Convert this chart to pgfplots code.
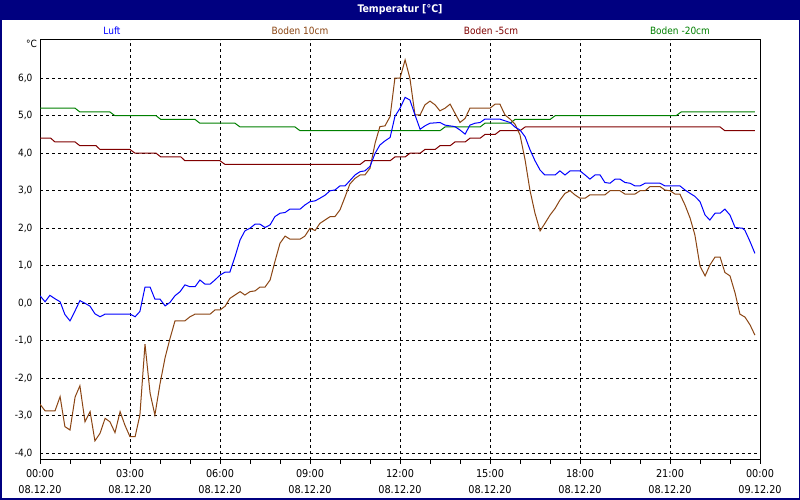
\documentclass[border=0pt]{standalone}
\usepackage{fontspec}
\setmainfont{DejaVu Sans Condensed}
\usepackage{pgfplots}
\pgfplotsset{compat=1.18}
\definecolor{navyb}{RGB}{0,0,128}
\definecolor{luft}{RGB}{0,0,255}
\definecolor{bten}{RGB}{139,69,19}
\definecolor{bfive}{RGB}{128,0,0}
\definecolor{btwenty}{RGB}{0,128,0}
\begin{document}
\begin{tikzpicture}[x=1pt,y=1pt]
\fill[navyb] (0,0) rectangle (800,500);
\fill[white] (1.5,1.5) rectangle (798.5,480);
\path[use as bounding box] (0,0) rectangle (800,500);
\node[white, font=\bfseries\fontsize{10.5}{12}\selectfont] at (400,490) {Temperatur [°C]};
\node[luft, font=\fontsize{10}{12}\selectfont] at (112,469) {Luft};
\node[bten, font=\fontsize{10}{12}\selectfont] at (300,469) {Boden 10cm};
\node[bfive, font=\fontsize{10}{12}\selectfont] at (491,469) {Boden -5cm};
\node[btwenty, font=\fontsize{10}{12}\selectfont] at (680,469) {Boden -20cm};
\node[anchor=east, font=\fontsize{10}{12}\selectfont, inner sep=0pt] at (37,456) {°C};
\begin{axis}[
  at={(40pt,40pt)}, anchor=south west,
  scale only axis, width=720pt, height=420pt,
  xmin=0, xmax=24, ymin=-4.18, ymax=7.02,
  axis line style={black, line width=1pt},
  xtick={0,3,...,24},
  xticklabels={{00:00\\08.12.20},{03:00\\08.12.20},{06:00\\08.12.20},{09:00\\08.12.20},{12:00\\08.12.20},{15:00\\08.12.20},{18:00\\08.12.20},{21:00\\08.12.20},{00:00\\09.12.20}},
  minor xtick={1,2,4,5,7,8,10,11,13,14,16,17,19,20,22,23},
  xtick pos=bottom, tick align=outside,
  major tick length=4pt, minor tick length=4pt,
  tick style={black, line width=0.8pt},
  ytick={-4,-3,...,6},
  yticklabels={{-4,0},{-3,0},{-2,0},{-1,0},{0,0},{1,0},{2,0},{3,0},{4,0},{5,0},{6,0}},
  ytick style={draw=none},
  xmajorgrids, ymajorgrids,
  major grid style={black, line width=0.8pt, dash pattern=on 3pt off 3pt},
  xticklabel style={align=center, font=\fontsize{10.8}{16}\selectfont, yshift=-2pt},
  yticklabel style={font=\fontsize{10}{12}\selectfont},
]
\addplot[btwenty, line width=1pt] coordinates {
(0,5.2)(1.17,5.2)(1.33,5.1)(2.33,5.1)(2.5,5.0)(3.87,5.0)(4.03,4.9)(5.17,4.9)(5.33,4.8)(6.5,4.8)(6.67,4.7)(8.5,4.7)(8.67,4.6)(13.33,4.6)(13.5,4.7)(14.67,4.7)(14.83,4.8)(15.67,4.8)(15.83,4.9)(17.0,4.9)(17.17,5.0)(21.2,5.0)(21.37,5.1)(23.83,5.1)
};
\addplot[bfive, line width=1pt] coordinates {
(0,4.4)(0.36,4.4)(0.5,4.3)(1.17,4.3)(1.33,4.2)(1.87,4.2)(2.0,4.1)(3.0,4.1)(3.17,4.0)(3.87,4.0)(4.03,3.9)(4.7,3.9)(4.83,3.8)(6.0,3.8)(6.17,3.7)(10.67,3.7)(10.83,3.8)(11.67,3.8)(11.83,3.9)(12.17,3.9)(12.33,4.0)(12.67,4.0)(12.83,4.1)(13.17,4.1)(13.33,4.2)(13.67,4.2)(13.83,4.3)(14.17,4.3)(14.33,4.4)(14.67,4.4)(14.83,4.5)(15.17,4.5)(15.33,4.6)(16.0,4.6)(16.17,4.7)(22.67,4.7)(22.83,4.6)(23.83,4.6)
};
\addplot[bten, line width=1pt] coordinates {
(0.00,-2.69)(0.17,-2.87)(0.50,-2.87)(0.67,-2.49)(0.83,-3.29)(1.00,-3.38)(1.17,-2.50)(1.33,-2.20)(1.50,-3.16)(1.67,-2.89)(1.83,-3.67)(2.00,-3.47)(2.17,-3.07)(2.33,-3.16)(2.50,-3.45)(2.67,-2.89)(2.83,-3.25)(3.00,-3.56)(3.17,-3.56)(3.33,-2.98)(3.50,-1.09)(3.67,-2.40)(3.83,-2.98)(4.00,-2.15)(4.17,-1.45)(4.33,-0.95)(4.50,-0.47)(4.83,-0.47)(5.00,-0.36)(5.17,-0.29)(5.67,-0.29)(5.83,-0.18)(6.00,-0.18)(6.17,-0.08)(6.33,0.13)(6.50,0.22)(6.67,0.31)(6.83,0.22)(7.00,0.31)(7.17,0.33)(7.33,0.43)(7.50,0.43)(7.67,0.62)(7.83,1.11)(8.00,1.60)(8.17,1.79)(8.33,1.71)(8.67,1.71)(8.83,1.79)(9.00,2.00)(9.17,1.94)(9.33,2.13)(9.50,2.22)(9.67,2.31)(9.83,2.31)(10.00,2.49)(10.17,2.84)(10.33,3.18)(10.50,3.33)(10.67,3.42)(10.83,3.42)(11.00,3.60)(11.17,4.27)(11.33,4.71)(11.50,4.73)(11.67,4.98)(11.83,6.00)(12.00,6.00)(12.17,6.49)(12.33,6.00)(12.50,5.02)(12.67,5.02)(12.83,5.29)(13.00,5.39)(13.17,5.29)(13.33,5.13)(13.50,5.20)(13.67,5.31)(13.83,5.07)(14.00,4.82)(14.17,4.93)(14.33,5.20)(15.00,5.20)(15.17,5.31)(15.33,5.31)(15.50,5.02)(15.67,4.91)(15.83,4.78)(16.00,4.49)(16.17,3.82)(16.33,3.02)(16.50,2.40)(16.67,1.93)(16.83,2.13)(17.00,2.35)(17.17,2.53)(17.33,2.75)(17.50,2.93)(17.67,3.00)(17.83,2.89)(18.00,2.80)(18.17,2.80)(18.33,2.89)(18.83,2.89)(19.00,3.00)(19.33,3.00)(19.50,2.91)(19.83,2.91)(20.00,3.00)(20.17,3.00)(20.33,3.11)(20.67,3.11)(20.83,3.02)(21.00,3.00)(21.17,2.91)(21.33,2.91)(21.50,2.62)(21.67,2.27)(21.83,1.82)(22.00,0.99)(22.17,0.73)(22.33,1.02)(22.50,1.23)(22.67,1.23)(22.83,0.82)(23.00,0.73)(23.17,0.27)(23.33,-0.29)(23.50,-0.37)(23.67,-0.58)(23.83,-0.85)
};
\addplot[luft, line width=1pt] coordinates {
(0.00,0.20)(0.17,0.04)(0.33,0.21)(0.50,0.12)(0.67,0.04)(0.83,-0.30)(1.00,-0.47)(1.17,-0.20)(1.33,0.07)(1.50,0.00)(1.67,-0.08)(1.83,-0.28)(2.00,-0.36)(2.17,-0.29)(3.00,-0.29)(3.17,-0.36)(3.33,-0.22)(3.50,0.43)(3.67,0.43)(3.83,0.11)(4.00,0.11)(4.17,-0.07)(4.33,0.02)(4.50,0.20)(4.67,0.31)(4.83,0.49)(5.00,0.44)(5.17,0.44)(5.33,0.62)(5.50,0.51)(5.67,0.51)(5.83,0.62)(6.00,0.75)(6.17,0.83)(6.33,0.83)(6.50,1.24)(6.67,1.69)(6.83,1.93)(7.00,2.00)(7.17,2.11)(7.33,2.11)(7.50,2.02)(7.67,2.09)(7.83,2.31)(8.00,2.40)(8.17,2.42)(8.33,2.51)(8.67,2.51)(8.83,2.62)(9.00,2.71)(9.17,2.73)(9.33,2.80)(9.50,2.88)(9.67,3.00)(9.83,3.02)(10.00,3.13)(10.17,3.13)(10.33,3.27)(10.50,3.42)(10.67,3.51)(10.83,3.53)(11.00,3.65)(11.17,4.00)(11.33,4.22)(11.50,4.33)(11.67,4.42)(11.83,4.98)(12.00,5.20)(12.17,5.49)(12.33,5.42)(12.50,5.02)(12.67,4.64)(12.83,4.73)(13.00,4.80)(13.33,4.82)(13.50,4.75)(13.83,4.71)(14.00,4.62)(14.17,4.51)(14.33,4.75)(14.50,4.80)(14.67,4.82)(14.83,4.91)(15.33,4.91)(15.67,4.82)(15.83,4.70)(16.00,4.62)(16.17,4.44)(16.33,4.10)(16.50,3.80)(16.67,3.55)(16.83,3.42)(17.17,3.42)(17.33,3.53)(17.50,3.42)(17.67,3.53)(18.00,3.53)(18.17,3.42)(18.33,3.31)(18.50,3.42)(18.67,3.42)(18.83,3.22)(19.00,3.20)(19.17,3.31)(19.33,3.31)(19.50,3.22)(19.67,3.20)(19.83,3.13)(20.00,3.13)(20.17,3.20)(20.67,3.20)(20.83,3.13)(21.33,3.13)(21.50,3.02)(21.67,2.93)(21.83,2.85)(22.00,2.71)(22.17,2.35)(22.33,2.22)(22.50,2.40)(22.67,2.40)(22.83,2.51)(23.00,2.35)(23.17,2.02)(23.42,2.00)(23.50,1.94)(23.67,1.64)(23.83,1.33)
};
\end{axis}
\end{tikzpicture}
\end{document}
